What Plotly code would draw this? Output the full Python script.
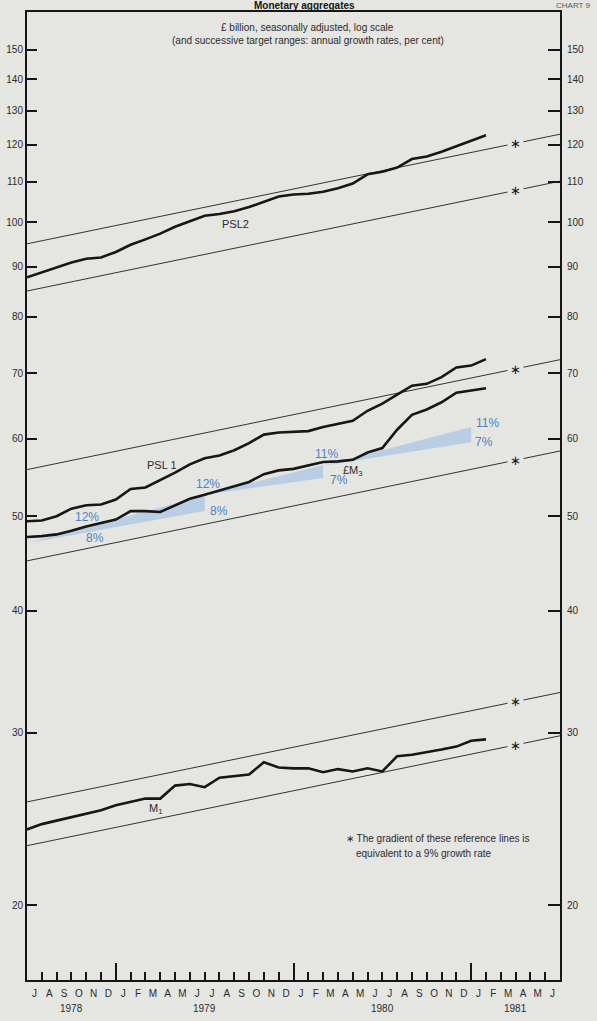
import math
import plotly.graph_objects as go

# ---------------- data ----------------
# x = month position: 0 = end-June 1978 ... 31 = end-January 1981 ; axis runs Jul 1978 - Jun 1981
months = list(range(32))

psl2 = [87.8, 88.8, 89.9, 90.9, 91.7, 92.0, 93.2, 94.8, 96.0, 97.3, 98.9, 100.1,
        101.5, 101.9, 102.6, 103.6, 104.8, 106.2, 106.7, 106.9, 107.4, 108.3, 109.5, 111.9,
        112.6, 113.7, 116.0, 116.7, 118.0, 119.6, 121.0, 122.7]

psl1 = [49.4, 49.5, 50.0, 50.9, 51.3, 51.4, 52.0, 53.3, 53.5, 54.4, 55.4, 56.5,
        57.3, 57.7, 58.4, 59.4, 60.6, 60.9, 61.0, 61.1, 61.7, 62.1, 62.6, 64.1,
        65.2, 66.6, 68.0, 68.3, 69.4, 71.0, 71.3, 72.4]

sterling_m3 = [47.6, 47.7, 47.9, 48.3, 48.8, 49.2, 49.6, 50.6, 50.6, 50.5, 51.3, 52.1,
               52.6, 53.1, 53.7, 54.2, 55.2, 55.7, 55.9, 56.3, 56.8, 56.9, 57.1, 58.1,
               58.7, 61.3, 63.5, 64.3, 65.4, 66.9, 67.2, 67.6]

m1 = [23.9, 24.2, 24.4, 24.6, 24.8, 25.0, 25.3, 25.5, 25.7, 25.7, 26.5, 26.6,
      26.4, 27.0, 27.1, 27.2, 28.0, 27.65, 27.6, 27.6, 27.35, 27.55, 27.4, 27.6,
      27.4, 28.4, 28.5, 28.65, 28.85, 29.05, 29.45, 29.55]

# reference lines (9% growth gradient): values at start (x=0) and end (x=36)
ref_x = [0, 36]
ref_lines = {
    "psl2_hi": [95.0, 123.0],
    "psl2_lo": [85.0, 110.1],
    "psl1_hi": [55.8, 72.3],
    "psl1_lo": [45.0, 58.3],
    "m1_hi": [25.5, 33.0],
    "m1_lo": [23.0, 29.8],
}
star_x = 33
star_vals = [120.4, 107.7, 70.7, 57.0, 32.3, 29.15]

# £M3 target ranges (shaded wedges): start point, end upper / end lower
fan_x = [[0, 12, 12], [12, 20, 20], [20, 30, 30]]
fan_y = [[46.9, 52.5, 50.6], [52.6, 56.4, 54.7], [56.3, 61.7, 59.5]]

pct_text = ["12%", "8%", "12%", "8%", "11%", "7%", "11%", "7%"]
pct_x = [4.05, 4.6, 12.2, 12.95, 20.2, 21.05, 31.1, 30.9]
pct_y = [49.9, 47.55, 54.0, 50.6, 57.9, 54.45, 62.3, 59.6]

series_labels = ["PSL2", "PSL 1", "£M<sub>3</sub>", "M<sub>1</sub>"]
series_label_x = [14.1, 9.1, 22.0, 8.7]
series_label_y = [99.5, 56.4, 55.6, 25.05]

month_letters = ["J", "A", "S", "O", "N", "D",
                 "J", "F", "M", "A", "M", "J", "J", "A", "S", "O", "N", "D",
                 "J", "F", "M", "A", "M", "J", "J", "A", "S", "O", "N", "D",
                 "J", "F", "M", "A", "M", "J"]
years = ["1978", "1979", "1980", "1981"]
year_x = [3, 12, 24, 33]
year_ticks = [6, 18, 30]

y_ticks = [20, 30, 40, 50, 60, 70, 80, 90, 100, 110, 120, 130, 140, 150]

# ---------------- styling ----------------
BG = "#e5e5e2"
INK = "#161616"
TXT = "#2b2b2b"
BLUE = "#4b82c4"
FONT = "Liberation Sans"
y_range = [math.log10(16.76), math.log10(164.05)]

fig = go.Figure()

# shaded target ranges
for fx, fy in zip(fan_x, fan_y):
    fig.add_trace(go.Scatter(
        x=fx + [fx[0]], y=fy + [fy[0]], mode="lines", fill="toself",
        fillcolor="rgba(150,188,232,0.55)", line=dict(width=0),
        hoverinfo="skip", showlegend=False))

# reference lines
for key, vals in ref_lines.items():
    fig.add_trace(go.Scatter(
        x=ref_x, y=vals, mode="lines", line=dict(color="#333333", width=1),
        hoverinfo="skip", showlegend=False))

# data series
for name, vals in [("PSL2", psl2), ("PSL1", psl1), ("£M3", sterling_m3), ("M1", m1)]:
    fig.add_trace(go.Scatter(
        x=months, y=vals, mode="lines", name=name,
        line=dict(color=INK, width=2.6), showlegend=False))

# invisible traces carrying the extra tick axes
fig.add_trace(go.Scatter(x=[0, 36], y=[20, 20], xaxis="x2", yaxis="y", mode="lines",
                         line=dict(width=0, color=BG), hoverinfo="skip", showlegend=False))
fig.add_trace(go.Scatter(x=[0, 36], y=[20, 20], xaxis="x", yaxis="y2", mode="lines",
                         line=dict(width=0, color=BG), hoverinfo="skip", showlegend=False))

annotations = []
# asterisks on reference lines (with background to break the line)
for v in star_vals:
    annotations.append(dict(
        x=star_x, y=math.log10(v), xref="x", yref="y", text="\u2217",
        showarrow=False, font=dict(family="DejaVu Sans", size=13, color=INK),
        bgcolor=BG, borderpad=2))

for t, x, y in zip(pct_text, pct_x, pct_y):
    annotations.append(dict(x=x, y=math.log10(y), xref="x", yref="y", text=t,
                            showarrow=False, font=dict(family=FONT, size=12, color=BLUE)))

for t, x, y in zip(series_labels, series_label_x, series_label_y):
    annotations.append(dict(x=x, y=math.log10(y), xref="x", yref="y", text=t,
                            showarrow=False, font=dict(family=FONT, size=11, color=TXT)))

for t, x in zip(years, year_x):
    annotations.append(dict(x=x, y=0, xref="x", yref="paper", yanchor="top", yshift=-21,
                            text=t, showarrow=False,
                            font=dict(family=FONT, size=10, color=TXT)))

# footnote
annotations.append(dict(x=21.4, y=math.log10(23.4), xref="x", yref="y", xanchor="left",
                        text="\u2217 The gradient of these reference lines is",
                        showarrow=False, font=dict(family=FONT, size=10, color=TXT)))
annotations.append(dict(x=22.1, y=math.log10(22.6), xref="x", yref="y", xanchor="left",
                        text="equivalent to a 9% growth rate",
                        showarrow=False, font=dict(family=FONT, size=10, color=TXT)))

# headings
annotations.append(dict(x=0.527, y=0.99174, xref="paper", yref="paper",
                        text="£ billion, seasonally adjusted, log scale",
                        showarrow=False, font=dict(family=FONT, size=10, color=TXT)))
annotations.append(dict(x=0.527, y=0.97831, xref="paper", yref="paper",
                        text="(and successive target ranges: annual growth rates, per cent)",
                        showarrow=False, font=dict(family=FONT, size=10, color=TXT)))
annotations.append(dict(x=0.52, y=1.0067, xref="paper", yref="paper", yanchor="middle",
                        text="<b>Monetary aggregates</b>", showarrow=False,
                        font=dict(family=FONT, size=10, color=INK)))
annotations.append(dict(x=1.06, y=1.0067, xref="paper", yref="paper", xanchor="right",
                        yanchor="middle", text="CHART 9", showarrow=False,
                        font=dict(family=FONT, size=8, color="#555555")))

fig.update_layout(
    width=597, height=1021,
    margin=dict(l=27, r=37, t=12, b=41, autoexpand=False),
    paper_bgcolor=BG, plot_bgcolor=BG,
    font=dict(family=FONT, size=10, color=TXT),
    annotations=annotations,
    xaxis=dict(range=[0, 36], tickmode="array", automargin=False,
               tickvals=[i + 0.5 for i in range(36)], ticktext=month_letters,
               ticks="", showgrid=False, zeroline=False,
               showline=True, linecolor=INK, linewidth=2, mirror=True,
               tickfont=dict(size=10, color=TXT), ticklabelstandoff=3),
    xaxis2=dict(range=[0, 36], overlaying="x", anchor="y", side="bottom", automargin=False,
                tickmode="array", tickvals=year_ticks, ticks="inside", ticklen=17,
                tickwidth=1.6, tickcolor=INK, showticklabels=False,
                showgrid=False, zeroline=False, showline=False,
                minor=dict(tickmode="array", tickvals=list(range(1, 36)), ticks="inside",
                           ticklen=8, tickwidth=1.6, tickcolor=INK, showgrid=False)),
    yaxis=dict(type="log", range=y_range, tickmode="array", tickvals=y_ticks, automargin=False,
               ticktext=[str(v) for v in y_ticks], ticks="inside", ticklen=10,
               tickwidth=2, tickcolor=INK, showgrid=False, zeroline=False,
               showline=True, linecolor=INK, linewidth=2, mirror=True,
               tickfont=dict(size=10, color=TXT)),
    yaxis2=dict(type="log", range=y_range, overlaying="y", side="right", anchor="x",
                automargin=False,
                tickmode="array", tickvals=y_ticks, ticktext=[str(v) for v in y_ticks],
                ticks="inside", ticklen=12, tickwidth=2, tickcolor=INK,
                showgrid=False, zeroline=False, showline=False,
                tickfont=dict(size=10, color=TXT), ticklabelstandoff=6),
)

fig.write_html(
    "out.html",
    config={"displayModeBar": False},
    post_script=("document.body.style.margin='0';"
                 "document.body.style.padding='0';"
                 "document.body.style.background='" + BG + "';"),
)
